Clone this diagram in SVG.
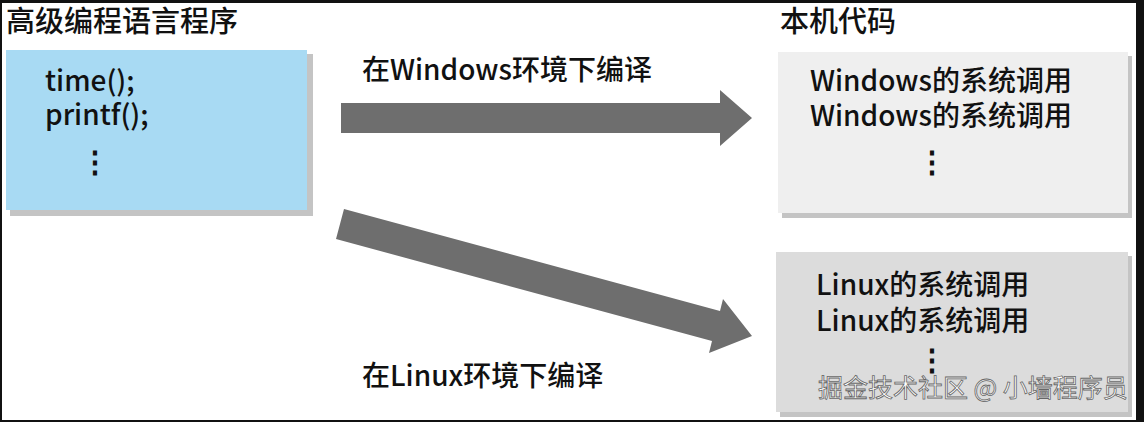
<svg xmlns="http://www.w3.org/2000/svg" width="1144" height="422" viewBox="0 0 1144 422">
<style>
.t{font-family:"Noto Sans CJK SC","Noto Sans",sans-serif;font-size:28px;font-weight:500;fill:#111}
.d{font-family:"Noto Sans CJK SC",sans-serif;font-size:30px;font-weight:700;fill:#111}
.sh{fill:#c4c4c4}
.arr{fill:#6e6e6e}
</style>
<rect x="0" y="0" width="1144" height="422" fill="#fff"/>
<rect x="0" y="0" width="1144" height="3" fill="#111"/>
<rect x="1136" y="0" width="8" height="422" fill="#111"/>
<rect x="0" y="420" width="1144" height="2" fill="#111"/>
<rect x="0" y="0" width="2" height="422" fill="#111"/>
<g id="title-left"><text class="t" x="6" y="32" style="font-size:29px">高级编程语言程序</text></g>
<g id="title-right"><text class="t" x="780" y="32" style="font-size:29px">本机代码</text></g>
<g id="src">
<rect class="sh" x="10" y="54" width="303" height="162"/>
<rect x="6" y="50" width="301" height="160" fill="#a8daf3"/>
<text class="t" x="45" y="91">time();</text>
<text class="t" x="45" y="125">printf();</text>
<text class="d" x="80" y="172">⋮</text>
</g>
<g id="win">
<rect class="sh" x="782" y="56" width="350" height="162"/>
<rect x="778" y="52" width="350" height="161" fill="#efefef"/>
<text class="t" x="810" y="91">Windows的系统调用</text>
<text class="t" x="810" y="126">Windows的系统调用</text>
<text class="d" x="917" y="172">⋮</text>
</g>
<g id="linux">
<rect class="sh" x="780" y="256" width="352" height="161"/>
<rect x="776" y="252" width="352" height="160" fill="#dcdcdc"/>
<text class="t" x="816" y="295">Linux的系统调用</text>
<text class="t" x="816" y="331">Linux的系统调用</text>
<text class="d" x="917" y="370">⋮</text>
</g>
<g id="connectors">
<polygon class="arr" points="341,103 720,103 720,90 752,118 720,146 720,133 341,133"/>
<polygon class="arr" points="344,209 720,311 723,299 752,336 709,353 712,341 336,239"/>
<text class="t" x="362" y="80">在Windows环境下编译</text>
<text class="t" x="362" y="386">在Linux环境下编译</text>
</g>
<text x="818" y="397" style="font-family:'Noto Sans CJK SC',sans-serif;font-size:25px;fill:#fff;stroke:#666;stroke-width:0.8">掘金技术社区 @ 小墙程序员</text>
</svg>
